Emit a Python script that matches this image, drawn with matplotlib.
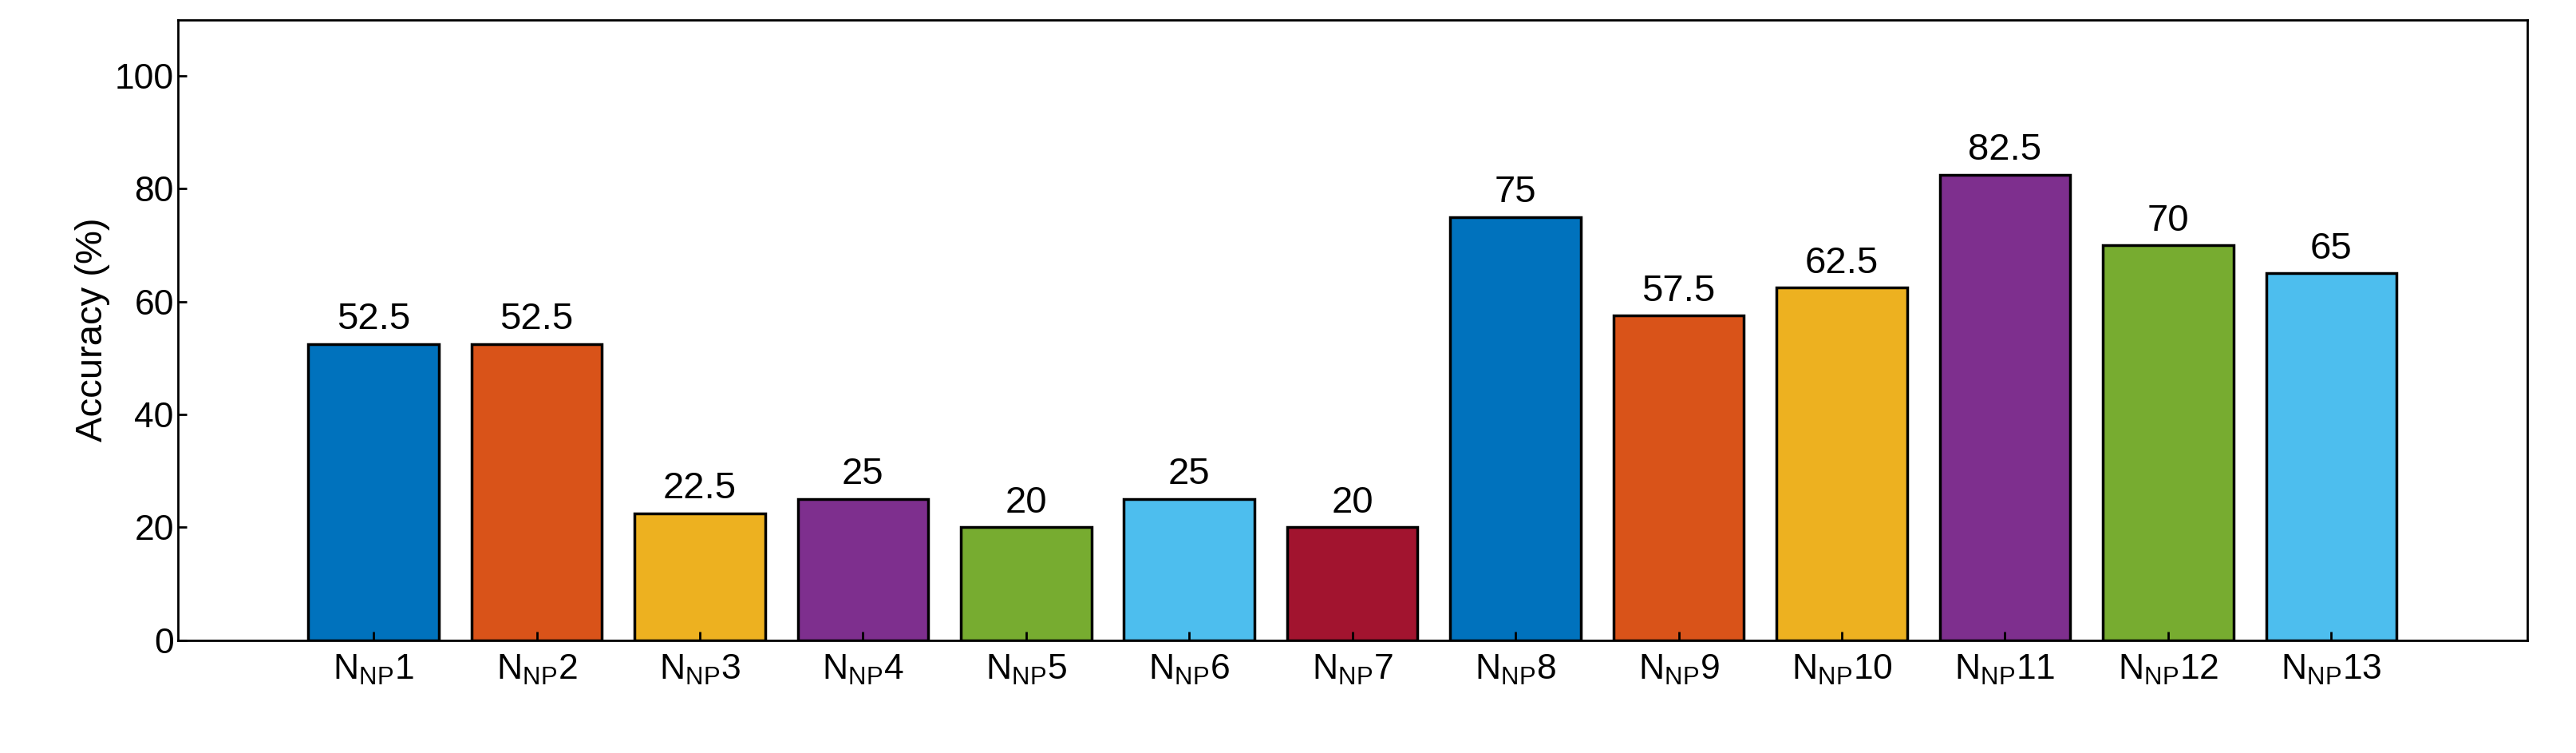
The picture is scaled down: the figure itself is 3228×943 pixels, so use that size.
import matplotlib
matplotlib.use("Agg")
import matplotlib.pyplot as plt

categories = [f"N$_{{\\mathrm{{NP}}}}${i}" for i in range(1, 14)]
values = [52.5, 52.5, 22.5, 25, 20, 25, 20, 75, 57.5, 62.5, 82.5, 70, 65]
colors = ["#0072BD", "#D95319", "#EDB120", "#7E2F8E", "#77AC30", "#4DBEEE", "#A2142F",
          "#0072BD", "#D95319", "#EDB120", "#7E2F8E", "#77AC30", "#4DBEEE"]

plt.rcParams['font.family'] = ['Arial', 'Liberation Sans', 'DejaVu Sans']
plt.rcParams['mathtext.fontset'] = 'custom'
plt.rcParams['mathtext.rm'] = 'Liberation Sans'
fig = plt.figure(figsize=(32.28, 9.43), dpi=100)
ax = fig.add_axes([0.069, 0.15, 0.912, 0.824])
x = list(range(1, 14))
bars = ax.bar(x, values, width=0.8, color=colors, edgecolor='black', linewidth=2.5)
for xi, v in zip(x, values):
    ax.text(xi, v + 1.2, f"{v:g}", ha='center', va='bottom', fontsize=34)
ax.set_xlim(-0.2, 14.2)
ax.set_ylim(0, 110)
ax.set_yticks([0, 20, 40, 60, 80, 100])
ax.set_xticks(x)
ax.set_xticklabels(categories)
ax.tick_params(labelsize=32, width=2, length=8, direction='in', top=False, right=False)
ax.tick_params(axis='x', pad=12)
ax.set_ylabel("Accuracy (%)", fontsize=34)
for s in ax.spines.values():
    s.set_linewidth(2)
fig.savefig("out.png", dpi=100)
